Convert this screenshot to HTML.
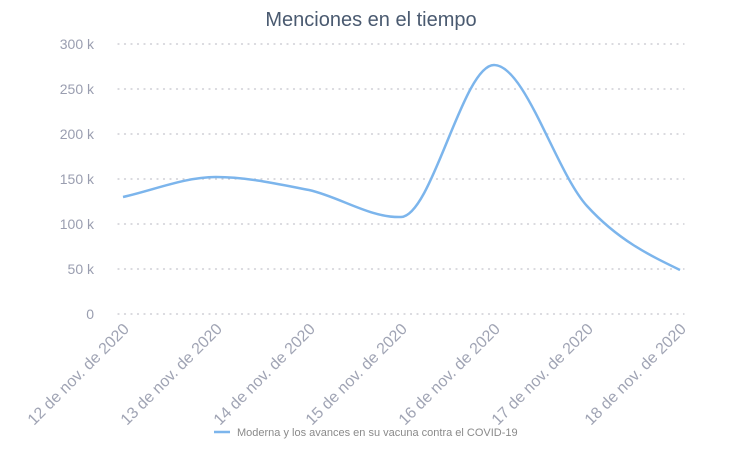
<!DOCTYPE html>
<html><head><meta charset="utf-8"><style>
html,body{margin:0;padding:0;background:#fff;}
svg{display:block;font-family:"Liberation Sans",sans-serif;}
</style></head><body>
<svg width="742" height="450" viewBox="0 0 742 450" xmlns="http://www.w3.org/2000/svg">
<text x="371" y="26" text-anchor="middle" font-size="20" fill="#4a5a70">Menciones en el tiempo</text>
<g stroke="#c4c4cc" stroke-width="1.2" stroke-dasharray="1,5.5" stroke-linecap="round">
<line x1="118" y1="44" x2="684" y2="44"/>
<line x1="118" y1="89" x2="684" y2="89"/>
<line x1="118" y1="134" x2="684" y2="134"/>
<line x1="118" y1="179" x2="684" y2="179"/>
<line x1="118" y1="224" x2="684" y2="224"/>
<line x1="118" y1="269" x2="684" y2="269"/>
<line x1="118" y1="314" x2="684" y2="314"/>
</g>
<g font-size="14" fill="#9a9eb0" text-anchor="end">
<text x="94" y="49">300 k</text>
<text x="94" y="94">250 k</text>
<text x="94" y="139">200 k</text>
<text x="94" y="184">150 k</text>
<text x="94" y="229">100 k</text>
<text x="94" y="274">50 k</text>
<text x="94" y="319">0</text>
</g>
<path d="M123,197 C154,190 185,177 216,177 C247,177 278,184 309,190 C340,197 370,218 401,217 C432,216 463,65 494,65 C525,65 556,172 587,206 C618,240 649,255 680,270" fill="none" stroke="#7cb5ec" stroke-width="2.5"/>
<line x1="214" y1="432" x2="230" y2="432" stroke="#7cb5ec" stroke-width="2.5"/>
<text x="237" y="436" font-size="11" fill="#8a8a8a">Moderna y los avances en su vacuna contra el COVID-19</text>
<g font-size="16" fill="#a0a4b4" text-anchor="end">
<text transform="translate(130,330) rotate(-45)">12 de nov. de 2020</text>
<text transform="translate(223,330) rotate(-45)">13 de nov. de 2020</text>
<text transform="translate(316,330) rotate(-45)">14 de nov. de 2020</text>
<text transform="translate(408,330) rotate(-45)">15 de nov. de 2020</text>
<text transform="translate(501,330) rotate(-45)">16 de nov. de 2020</text>
<text transform="translate(594,330) rotate(-45)">17 de nov. de 2020</text>
<text transform="translate(687,330) rotate(-45)">18 de nov. de 2020</text>
</g>
</svg>
</body></html>
